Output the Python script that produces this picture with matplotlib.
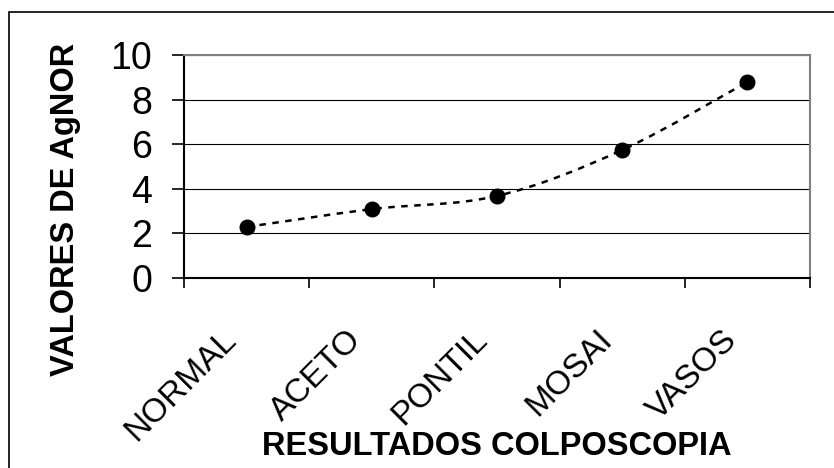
import matplotlib
matplotlib.use("Agg")
import matplotlib.pyplot as plt
from matplotlib.path import Path
from matplotlib.patches import PathPatch, Rectangle
from matplotlib.transforms import ScaledTranslation, blended_transform_factory
import numpy as np

categories = ["NORMAL", "ACETO", "PONTIL", "MOSAI", "VASOS"]
values = [2.29, 3.09, 3.68, 5.74, 8.79]
y_ticks = [0, 2, 4, 6, 8, 10]
x_title = "RESULTADOS COLPOSCOPIA"
y_title = "VALORES DE AgNOR"

plt.rcParams['font.family'] = ['Liberation Sans', 'DejaVu Sans']

W, H = 834, 468
fig = plt.figure(figsize=(W / 100, H / 100), dpi=100)
ax = fig.add_axes([184 / W, 1 - 278 / H, (810 - 184) / W, (278 - 55) / H])

x = np.arange(len(categories))
ax.set_xlim(-0.5, len(categories) - 0.5)
ax.set_ylim(y_ticks[0], y_ticks[-1])

# Excel-like smoothed line (Bezier through the points)
pts = np.column_stack([x, values]).astype(float)
n = len(pts)
verts = [tuple(pts[0])]
codes = [Path.MOVETO]
for i in range(n - 1):
    p0 = pts[i - 1] if i > 0 else pts[i]
    p1 = pts[i]
    p2 = pts[i + 1]
    p3 = pts[i + 2] if i + 2 < n else pts[i + 1]
    c1 = p1 + (p2 - p0) / 6.0
    c2 = p2 - (p3 - p1) / 6.0
    verts += [tuple(c1), tuple(c2), tuple(p2)]
    codes += [Path.CURVE4] * 3
patch = PathPatch(Path(verts, codes), facecolor='none', edgecolor='black',
                  lw=1.8, linestyle=(0, (2.6, 2.6)), zorder=3)
ax.add_patch(patch)
ax.plot(x, values, linestyle='none', marker='o', markersize=10.5,
        color='black', zorder=4)

# grid
ax.set_yticks(y_ticks)
ax.yaxis.grid(True, color='black', lw=0.8)
ax.set_axisbelow(True)

# x ticks at category boundaries, labels at centers
ax.set_xticks(np.arange(-0.5, len(categories), 1.0))
ax.set_xticklabels([])
ax.tick_params(axis='x', which='major', direction='out', length=7, width=1.2)
ax.tick_params(axis='y', direction='out', length=9, width=1.2, labelsize=27, pad=14)

lab_tr = blended_transform_factory(ax.transData, ax.transAxes) + \
    ScaledTranslation(-0.15, -0.57, fig.dpi_scale_trans)
for xi, cat in zip(x, categories):
    ax.text(xi, 0, cat, transform=lab_tr, rotation=45, rotation_mode='anchor',
            ha='right', va='center', fontsize=24, clip_on=False)

for s in ['left', 'bottom']:
    ax.spines[s].set_color('black')
    ax.spines[s].set_linewidth(1.5)
for s in ['top', 'right']:
    ax.spines[s].set_color('#808080')
    ax.spines[s].set_linewidth(1.5)

fig.text(66 / W, 1 - 209 / H, y_title, rotation=90, ha='center', va='center',
         fontsize=23.5, fontweight='bold')
fig.text(497 / W, 1 - 455 / H, x_title, ha='center', va='baseline',
         fontsize=23.5, fontweight='bold')

# outer chart border
fig.patches.append(Rectangle((9 / W, -0.05), 1.0, 1 - 12 / H + 0.05,
                             transform=fig.transFigure, fill=False,
                             edgecolor='black', lw=1.2))

fig.savefig("out.png", dpi=100)
